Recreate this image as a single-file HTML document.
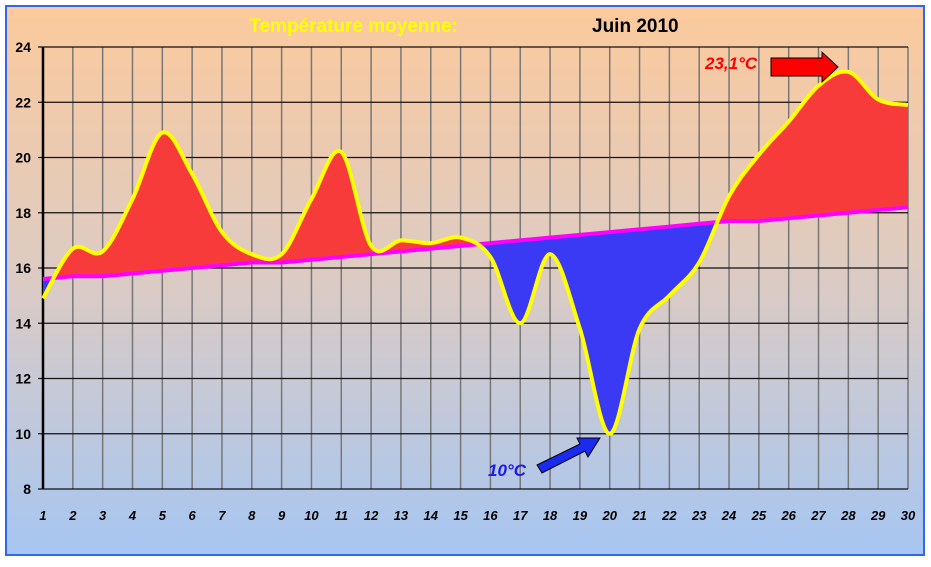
<!DOCTYPE html>
<html><head><meta charset="utf-8"><style>
body{margin:0;width:931px;height:562px;overflow:hidden;background:#fff;font-family:"Liberation Sans",sans-serif}
</style></head><body>
<svg width="931" height="562" xmlns="http://www.w3.org/2000/svg">
<defs>
<linearGradient id="bg" x1="0" y1="0" x2="0" y2="1">
<stop offset="0" stop-color="#fcca9c"/><stop offset="0.5" stop-color="#dccbc4"/><stop offset="1" stop-color="#a6c6f2"/>
</linearGradient>
<clipPath id="above"><path id="clipA"/></clipPath>
<clipPath id="below"><path id="clipB"/></clipPath>
</defs>
<rect x="6" y="6" width="918" height="549" fill="url(#bg)" stroke="#3366ee" stroke-width="2"/>
<text x="458" y="32" font-size="19" font-weight="bold" fill="#ffff00" text-anchor="end">Température moyenne:</text>
<text x="592" y="32" font-size="19" font-weight="bold" fill="#000" text-anchor="start">Juin 2010</text>
<g id="grid"></g>
<g id="fills"></g>
<g id="lines"></g>
<g id="labels"></g>
<text x="705" y="69" font-size="17" font-weight="bold" font-style="italic" fill="#ff0000">23,1°C</text>
<polygon points="771,58 822,58 822,52 838,67 822,82 822,76 771,76" fill="#ff0000" stroke="#000" stroke-width="1"/>
<text x="488" y="476" font-size="17" font-weight="bold" font-style="italic" fill="#1a1aee">10°C</text>
<polygon points="537,465 580,444 577,438 600,438 588,457 585,451 542,473" fill="#1a2aee" stroke="#000" stroke-width="1"/>
</svg>
<script>
const days=[1,2,3,4,5,6,7,8,9,10,11,12,13,14,15,16,17,18,19,20,21,22,23,24,25,26,27,28,29,30];
const temps=[14.9,16.7,16.6,18.5,20.9,19.4,17.3,16.5,16.5,18.5,20.2,16.8,17.0,16.9,17.1,16.4,14.0,16.5,13.8,10.0,13.8,15.0,16.2,18.6,20.1,21.3,22.6,23.1,22.1,21.9];
const normals=[15.6,15.7,15.7,15.8,15.9,16.0,16.1,16.2,16.2,16.3,16.4,16.5,16.6,16.7,16.8,16.9,17.0,17.1,17.2,17.3,17.4,17.5,17.6,17.7,17.7,17.8,17.9,18.0,18.1,18.2];
const yTicks=[8,10,12,14,16,18,20,22,24];
const X0=43,X1=908,Y0=489,Y1=47;
const xs=d=>X0+(d-1)*(X1-X0)/29;
const ys=v=>Y0-(v-8)*(Y0-Y1)/16;
const NS="http://www.w3.org/2000/svg";
function mk(t,a,p){const e=document.createElementNS(NS,t);for(const k in a)e.setAttribute(k,a[k]);p.appendChild(e);return e;}
const grid=document.getElementById('grid'),labels=document.getElementById('labels');
days.forEach(d=>{
 const l=mk('line',{x1:xs(d),x2:xs(d),y1:Y1,y2:Y0,stroke:'#777','stroke-width':1.5},grid);
 
 
 const t=mk('text',{x:xs(d),y:520,'font-size':13,'font-weight':'bold','font-style':'italic','text-anchor':'middle'},labels);
 t.textContent=d;
 
 
});
yTicks.forEach(v=>{
 const l=mk('line',{x1:X0-5,x2:X1,y1:ys(v),y2:ys(v),stroke:'#111','stroke-width':1.2},grid);
 
 
 const t=mk('text',{x:31,y:ys(v)+5,'font-size':14,'font-weight':'bold','text-anchor':'end'},labels);
 t.textContent=v;
 
 
});
const ax=mk('line',{x1:X0,x2:X0,y1:Y1,y2:Y0,stroke:'#000','stroke-width':2.5},grid);


const pts=days.map((d,i)=>[xs(d),ys(temps[i])]);
function smooth(p){let s=`M${p[0][0]},${p[0][1]}`;for(let i=0;i<p.length-1;i++){const a=p[Math.max(i-1,0)],b=p[i],c=p[i+1],d=p[Math.min(i+2,p.length-1)];const c1=[b[0]+(c[0]-a[0])/6,b[1]+(c[1]-a[1])/6],c2=[c[0]-(d[0]-b[0])/6,c[1]-(d[1]-b[1])/6];s+=` C${c1[0]},${c1[1]} ${c2[0]},${c2[1]} ${c[0]},${c[1]}`;}return s;}
const curve=smooth(pts);
let nLine='';days.forEach((d,i)=>{nLine+=(i?' L':'M')+xs(d)+','+ys(normals[i]);});
let nBack='';for(let i=days.length-1;i>=0;i--)nBack+=' L'+xs(days[i])+','+ys(normals[i]);
const area=curve+nBack+' Z';
document.getElementById('clipA').setAttribute('d',nLine+` L${X1},0 L${X0},0 Z`);
document.getElementById('clipB').setAttribute('d',nLine+` L${X1},600 L${X0},600 Z`);
const fills=document.getElementById('fills'),lines=document.getElementById('lines');
const ra=mk('path',{d:area,fill:'#f73b3b','clip-path':'url(#above)'},fills);


const ba=mk('path',{d:area,fill:'#3a3af4','clip-path':'url(#below)'},fills);


const nl=mk('path',{d:nLine,fill:'none',stroke:'#ff00ff','stroke-width':4},lines);


const tl=mk('path',{d:curve,fill:'none',stroke:'#ffff00','stroke-width':4},lines);


</script>
</body></html>
